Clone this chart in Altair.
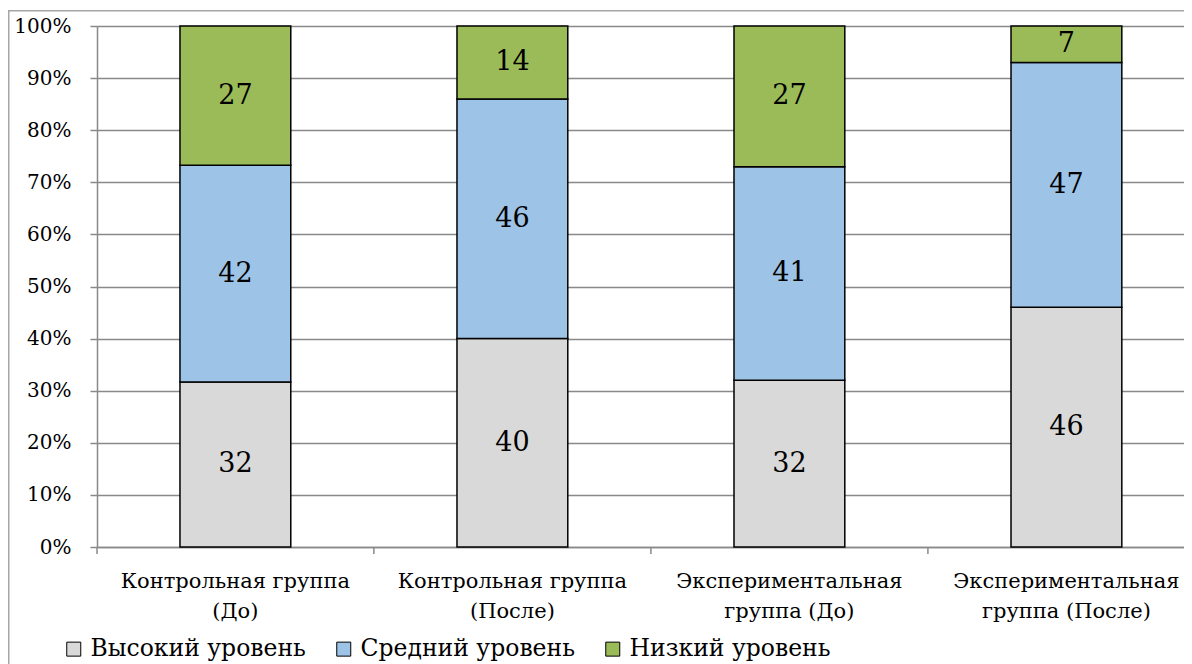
import altair as alt
import pandas as pd

categories = [
    "Контрольная группа\n(До)",
    "Контрольная группа\n(После)",
    "Экспериментальная\nгруппа (До)",
    "Экспериментальная\nгруппа (После)",
]
levels = ["Высокий уровень", "Средний уровень", "Низкий уровень"]
high = [32, 40, 32, 46]
middle = [42, 46, 41, 47]
low = [27, 14, 27, 7]
colors = ["#D9D9D9", "#9DC3E6", "#9BBB59"]
y_ticks = [0, 0.1, 0.2, 0.3, 0.4, 0.5, 0.6, 0.7, 0.8, 0.9, 1.0]

rows = []
for i, c in enumerate(categories):
    for j, (lev, vals) in enumerate(zip(levels, [high, middle, low])):
        rows.append({"cat": c, "level": lev, "order": j, "value": vals[i]})
df = pd.DataFrame(rows)
df_cat = pd.DataFrame({"cat": categories})
one = pd.DataFrame({"k": [0]})

W, H = 1087, 521
GRAY = "#898989"
FONT = "DejaVu Serif"

xscale = alt.Scale(domain=categories, paddingInner=0.6, paddingOuter=0.262, align=0.5716)

base = (
    alt.Chart(df)
    .transform_joinaggregate(total="sum(value)", groupby=["cat"])
    .transform_calculate(frac="datum.value / datum.total")
    .transform_stack(stack="frac", groupby=["cat"], as_=["y0", "y1"],
                     sort=[alt.SortField("order", order="ascending")])
    .transform_calculate(ym="(datum.y0 + datum.y1) / 2")
)

bars = base.mark_bar(stroke="black", strokeWidth=1.5).encode(
    x=alt.X("cat:N", scale=xscale, sort=categories,
            axis=alt.Axis(title=None, labelExpr="split(datum.label, '\\n')", labelAngle=0,
                          ticks=False, labelPadding=23, labelFontSize=21, labelLineHeight=30,
                          labelFont=FONT, labelColor="black", domainColor=GRAY, domainWidth=1.5,
                          grid=False, labelBaseline="top", labelLimit=0)),
    y=alt.Y("y0:Q", scale=alt.Scale(domain=[0, 1], nice=False),
            axis=alt.Axis(title=None, values=y_ticks, format=".0%", labelFont=FONT,
                          labelFontSize=20, labelColor="black", labelPadding=19, tickSize=7,
                          tickColor=GRAY, tickWidth=1.5, domainColor=GRAY, domainWidth=1.5,
                          gridColor=GRAY, gridWidth=1.5)),
    y2="y1:Q",
    color=alt.Color("level:N", scale=alt.Scale(domain=levels, range=colors),
                    legend=alt.Legend(title=None, orient="none", legendX=-35, legendY=611,
                                      direction="horizontal", symbolType="square",
                                      symbolSize=196, symbolStrokeColor="black",
                                      symbolStrokeWidth=1, labelFont=FONT, labelFontSize=23.5,
                                      labelColor="black", columnPadding=26, labelOffset=5,
                                      labelLimit=0)),
    order=alt.Order("order:Q"),
)

labels = base.mark_text(font=FONT, fontSize=27, color="black").encode(
    x=alt.X("cat:N", sort=categories),
    y=alt.Y("ym:Q"),
    text=alt.Text("value:Q"),
)

ticks = alt.Chart(df_cat).mark_rule(color=GRAY, strokeWidth=1.5, xOffset=83.1).encode(
    x=alt.X("cat:N", sort=categories, bandPosition=1),
    y=alt.value(H),
    y2=alt.value(H + 7),
)

left_tick = alt.Chart(one).mark_rule(color=GRAY, strokeWidth=1.5).encode(
    x=alt.value(0), y=alt.value(H), y2=alt.value(H + 7)
)

frame = alt.Chart(one).mark_rect(fillOpacity=0, stroke="#A6A6A6", strokeWidth=1.5).encode(
    x=alt.value(-88.25), y=alt.value(-15.25), x2=alt.value(W + 100), y2=alt.value(H + 300)
)

chart = (
    alt.layer(frame, bars, labels, ticks, left_tick)
    .properties(width=W, height=H,
                padding={"left": 89, "top": 18, "right": 0, "bottom": 121},
                autosize=alt.AutoSizeParams(type="none"))
    .configure_view(stroke=None)
)

chart.save("out.html", embed_options={"renderer": "svg", "actions": False})
